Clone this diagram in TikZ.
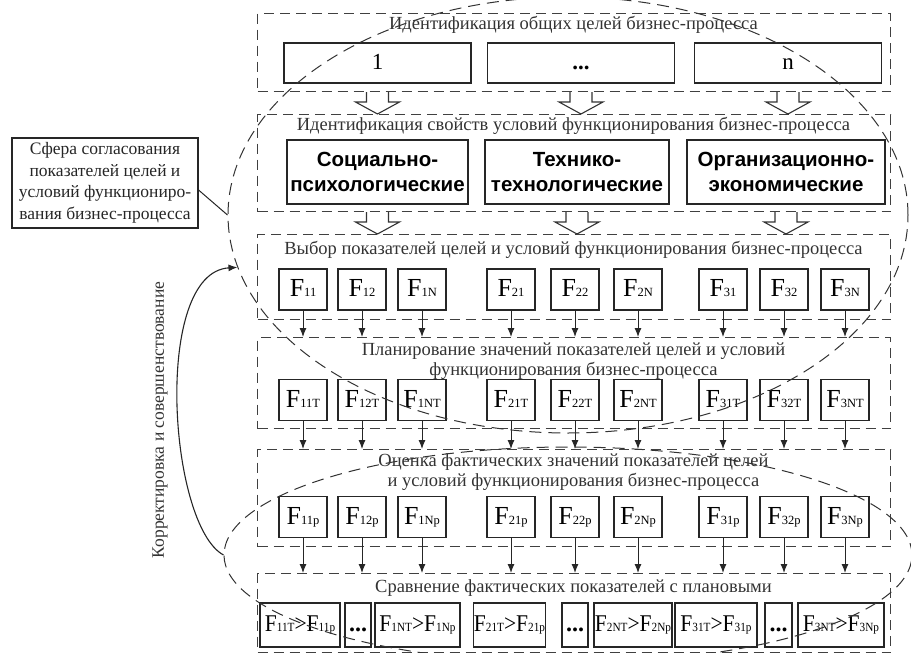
\documentclass[tikz,border=0pt]{standalone}
\usepackage{fontspec}
\usepackage{graphicx}
\setmainfont{Liberation Serif}
\newfontfamily\headfont{Liberation Sans}
\usetikzlibrary{arrows.meta,positioning,calc,shapes.geometric}

% F with a small index on the baseline
\newcommand{\Fi}[1]{F{\fontsize{12.5}{12.5}\selectfont #1}}
\newcommand{\squeeze}[1]{\scalebox{0.9}[1]{#1}}

\begin{document}
\begin{tikzpicture}[x=1pt, y=-1pt,
    font=\fontsize{17.5}{21.5}\selectfont,
    >={Latex[length=9pt,width=7pt]},
    panel/.style={draw=black!75, line width=1.2pt, dash pattern=on 10pt off 6pt,
      anchor=north west, inner sep=0pt, minimum width=633pt},
    ttl/.style={text=black!80, align=center, font=\fontsize{18.5}{19.5}\selectfont},
    goal/.style={draw=black!85, line width=1.1pt, minimum width=187pt, minimum height=40pt,
      inner sep=0pt, text height=14pt, text depth=2pt, font=\fontsize{23}{23}\selectfont},
    prop/.style={draw=black!85, line width=1.1pt, minimum height=64pt, inner sep=0pt,
      align=center, font=\headfont\bfseries\fontsize{20.5}{25}\selectfont},
    fbox/.style={draw=black!85, line width=1.1pt, minimum width=48pt, minimum height=41pt,
      inner sep=0pt, text height=17pt, text depth=3pt, font=\fontsize{26}{26}\selectfont},
    cmp/.style={draw=black!85, line width=1.1pt, minimum height=44pt, inner sep=0pt,
      text height=16pt, text depth=4pt, font=\fontsize{24}{24}\selectfont},
    flow/.style={->, line width=1pt, draw=black!85},
    hollow/.style={draw=black!80, line width=1.1pt, fill=white,
      to path={let \p1=(\tikztostart), \p2=(\tikztotarget) in
        (\x1-11pt,\y1) -- (\x1-11pt,\y2+12pt) -- (\x1-22pt,\y2+12pt) -- (\x1,\y2)
        -- (\x1+22pt,\y2+12pt) -- (\x1+11pt,\y2+12pt) -- (\x1+11pt,\y1)}},
    zone/.style={ellipse, draw=black!80, line width=1pt, dash pattern=on 12pt off 7pt,
      inner sep=0pt}
  ]
  \useasboundingbox (0,0) rectangle (911,653);

  % stages
  \node[panel, minimum height=78pt] (p1) at (257,13) {};
  \node[panel, minimum height=97pt] (p2) at (257,114) {};
  \node[panel, minimum height=85pt] (p3) at (257,234) {};
  \node[panel, minimum height=91pt] (p4) at (257,337) {};
  \node[panel, minimum height=97pt] (p5) at (257,449) {};
  \node[panel, minimum height=79pt] (p6) at (257,573) {};

  \node[ttl] (t1) at (573.5,25) {Идентификация общих целей бизнес-процесса};
  \node[ttl] (t2) at (573.5,126) {Идентификация свойств условий функционирования бизнес-процесса};
  \node[ttl] (t3) at (573.5,250) {Выбор показателей целей и условий функционирования бизнес-процесса};
  \node[ttl] (t4) at (573.5,361) {Планирование значений показателей целей и условий\\функционирования бизнес-процесса};
  \node[ttl] (t5) at (573.5,472) {Оценка фактических значений показателей целей\\и условий функционирования бизнес-процесса};
  \node[ttl] (t6) at (573.5,588) {Сравнение фактических показателей с плановыми};

  % goals and properties
  \node[goal] (g1) at (377.5,63) {1};
  \node[goal] (g2) at (581,63) {\textbf{...}};
  \node[goal] (g3) at (788,63) {n};
  \node[prop, minimum width=181pt] (k1) at (377.5,172) {Социально-\\психологические};
  \node[prop, minimum width=184pt] (k2) at (577,172) {Технико-\\технологические};
  \node[prop, minimum width=198pt] (k3) at (786,172) {Организационно-\\экономические};
  \draw[hollow] (g1.south |- p1.south) to (g1.south |- p2.north);
  \draw[hollow] (g2.south |- p1.south) to (g2.south |- p2.north);
  \draw[hollow] (g3.south |- p1.south) to (g3.south |- p2.north);
  \draw[hollow] (k1.south |- p2.south) to (k1.south |- p3.north);
  \draw[hollow] (k2.south |- p2.south) to (k2.south |- p3.north);
  \draw[hollow] (k3.south |- p2.south) to (k3.south |- p3.north);

  % selected indicators
  \node[fbox] (s11) at (303,289.5) {\Fi{11}};
  \node[fbox] (s12) at (362,289.5) {\Fi{12}};
  \node[fbox] (s1n) at (422,289.5) {\Fi{1N}};
  \node[fbox] (s21) at (511,289.5) {\Fi{21}};
  \node[fbox] (s22) at (575,289.5) {\Fi{22}};
  \node[fbox] (s2n) at (638,289.5) {\Fi{2N}};
  \node[fbox] (s31) at (723,289.5) {\Fi{31}};
  \node[fbox] (s32) at (784,289.5) {\Fi{32}};
  \node[fbox] (s3n) at (845,289.5) {\Fi{3N}};
  \draw[flow] (s11)--(s11 |- p4.north); \draw[flow] (s12)--(s12 |- p4.north); \draw[flow] (s1n)--(s1n |- p4.north);
  \draw[flow] (s21)--(s21 |- p4.north); \draw[flow] (s22)--(s22 |- p4.north); \draw[flow] (s2n)--(s2n |- p4.north);
  \draw[flow] (s31)--(s31 |- p4.north); \draw[flow] (s32)--(s32 |- p4.north); \draw[flow] (s3n)--(s3n |- p4.north);

  % planned values
  \node[fbox] (t11) at (303,400) {\Fi{11T}};
  \node[fbox] (t12) at (362,400) {\Fi{12T}};
  \node[fbox] (t1n) at (422,400) {\Fi{1NT}};
  \node[fbox] (t21) at (511,400) {\Fi{21T}};
  \node[fbox] (t22) at (575,400) {\Fi{22T}};
  \node[fbox] (t2n) at (638,400) {\Fi{2NT}};
  \node[fbox] (t31) at (723,400) {\Fi{31T}};
  \node[fbox] (t32) at (784,400) {\Fi{32T}};
  \node[fbox] (t3n) at (845,400) {\Fi{3NT}};
  \draw[flow] (t11)--(t11 |- p5.north); \draw[flow] (t12)--(t12 |- p5.north); \draw[flow] (t1n)--(t1n |- p5.north);
  \draw[flow] (t21)--(t21 |- p5.north); \draw[flow] (t22)--(t22 |- p5.north); \draw[flow] (t2n)--(t2n |- p5.north);
  \draw[flow] (t31)--(t31 |- p5.north); \draw[flow] (t32)--(t32 |- p5.north); \draw[flow] (t3n)--(t3n |- p5.north);

  % actual values
  \node[fbox] (a11) at (303,517) {\Fi{11p}};
  \node[fbox] (a12) at (362,517) {\Fi{12p}};
  \node[fbox] (a1n) at (422,517) {\Fi{1Np}};
  \node[fbox] (a21) at (511,517) {\Fi{21p}};
  \node[fbox] (a22) at (575,517) {\Fi{22p}};
  \node[fbox] (a2n) at (638,517) {\Fi{2Np}};
  \node[fbox] (a31) at (723,517) {\Fi{31p}};
  \node[fbox] (a32) at (784,517) {\Fi{32p}};
  \node[fbox] (a3n) at (845,517) {\Fi{3Np}};
  \draw[flow] (a11)--(a11 |- p6.north); \draw[flow] (a12)--(a12 |- p6.north); \draw[flow] (a1n)--(a1n |- p6.north);
  \draw[flow] (a21)--(a21 |- p6.north); \draw[flow] (a22)--(a22 |- p6.north); \draw[flow] (a2n)--(a2n |- p6.north);
  \draw[flow] (a31)--(a31 |- p6.north); \draw[flow] (a32)--(a32 |- p6.north); \draw[flow] (a3n)--(a3n |- p6.north);

  % comparison
  \node[cmp, minimum width=80pt] (c1) at (300,625) {\squeeze{\Fi{11T}>\Fi{11p}}};
  \node[cmp, minimum width=26pt] (d1) at (358,625) {\textbf{...}};
  \node[cmp, minimum width=85pt] (c2) at (417.5,625) {\squeeze{\Fi{1NT}>\Fi{1Np}}};
  \node[cmp, minimum width=71pt] (c3) at (509.5,625) {\squeeze{\Fi{21T}>\Fi{21p}}};
  \node[cmp, minimum width=26pt] (d2) at (575,625) {\textbf{...}};
  \node[cmp, minimum width=78pt] (c4) at (633,625) {\squeeze{\Fi{2NT}>\Fi{2Np}}};
  \node[cmp, minimum width=82pt] (c5) at (716,625) {\squeeze{\Fi{31T}>\Fi{31p}}};
  \node[cmp, minimum width=27pt] (d3) at (778.5,625) {\textbf{...}};
  \node[cmp, minimum width=86pt] (c6) at (841,625) {\squeeze{\Fi{3NT}>\Fi{3Np}}};

  % spheres
  \node[zone, minimum width=680pt, minimum height=436pt] (upper) at (568,215) {};
  \node[zone, minimum width=688pt, minimum height=216pt] (lower) at (568,555) {};
  \node[draw=black!85, line width=1.1pt, align=center, inner sep=0pt, minimum width=186pt,
    minimum height=90pt, text=black!85] (sfera) at (105,183)
    {Сфера согласования\\показателей целей и\\условий функциониро-\\вания бизнес-процесса};
  \draw[line width=1pt, black!85] ([yshift=-7pt]sfera.east) -- (upper.west);
  \draw[->, line width=1.1pt, black!85] (lower.west) .. controls +(-55,-30) and +(-85,5) .. (upper.189.5);
  \node[rotate=90, text=black!80] (korr) at (160,420) {Корректировка и совершенствование};
\end{tikzpicture}
\end{document}
